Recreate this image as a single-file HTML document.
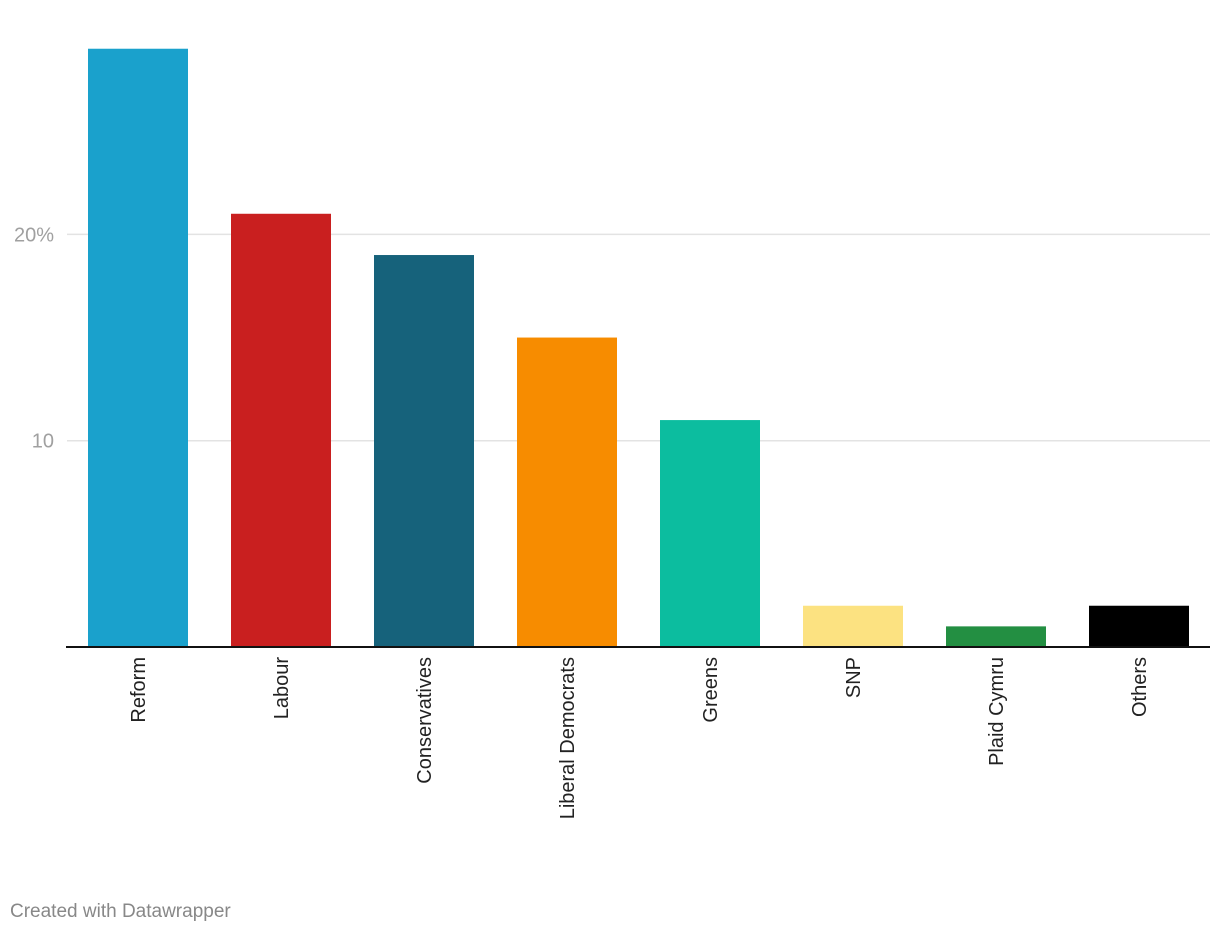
<!DOCTYPE html>
<html><head><meta charset="utf-8"><style>
html,body{margin:0;padding:0;background:#fff;width:1220px;height:936px;overflow:hidden}
svg{display:block}
text{font-family:"Liberation Sans",sans-serif}
</style></head><body>
<svg id="chart" width="1220" height="936" xmlns="http://www.w3.org/2000/svg">
<g id="grid"></g>
<g id="bars"></g>
<g id="xlabels"></g>
<line x1="66" x2="1210" y1="647" y2="647" stroke="#111" stroke-width="2"/>
<text x="10" y="917" font-size="19" fill="#888">Created with Datawrapper</text>
</svg>
<script>
const categories=["Reform","Labour","Conservatives","Liberal Democrats","Greens","SNP","Plaid Cymru","Others"];
const values=[29,21,19,15,11,2,1,2];
const colors=["#1aa1cc","#c91f1f","#16627b","#f78c00","#0cbd9f","#fce281","#238f42","#000000"];
const ticks=[10,20];
const tickLabels=["10","20%"];
const NS="http://www.w3.org/2000/svg";
const y0=647, pxPerUnit=20.63;
function y(v){return y0-v*pxPerUnit;}
function x(i){return 88+i*143;}
const bw=100;
const grid=document.getElementById('grid');
ticks.forEach((t,i)=>{
  const l=document.createElementNS(NS,'line');
  
  
  l.setAttribute('x1',67);l.setAttribute('x2',1210);
  l.setAttribute('y1',y(t));l.setAttribute('y2',y(t));
  l.setAttribute('stroke','#e3e3e3');l.setAttribute('stroke-width','1.5');
  grid.appendChild(l);
  const tx=document.createElementNS(NS,'text');
  
  
  tx.setAttribute('x',54);tx.setAttribute('y',y(t)+7);
  tx.setAttribute('text-anchor','end');tx.setAttribute('font-size','20');tx.setAttribute('fill','#a0a0a0');
  tx.textContent=tickLabels[i];
  grid.appendChild(tx);
});
const bars=document.getElementById('bars'), xl=document.getElementById('xlabels');
categories.forEach((c,i)=>{
  const r=document.createElementNS(NS,'rect');
  
  
  r.setAttribute('x',x(i));r.setAttribute('y',y(values[i]));
  r.setAttribute('width',bw);r.setAttribute('height',y0-y(values[i]));
  r.setAttribute('fill',colors[i]);
  bars.appendChild(r);
  const t=document.createElementNS(NS,'text');
  
  
  const cx=x(i)+bw/2+7, cy=657;
  t.setAttribute('x',cx);t.setAttribute('y',cy);
  t.setAttribute('transform','rotate(-90 '+cx+' '+cy+')');
  t.setAttribute('text-anchor','end');t.setAttribute('font-size','20');t.setAttribute('fill','#222');
  t.textContent=c;
  xl.appendChild(t);
});
</script>
</body></html>
